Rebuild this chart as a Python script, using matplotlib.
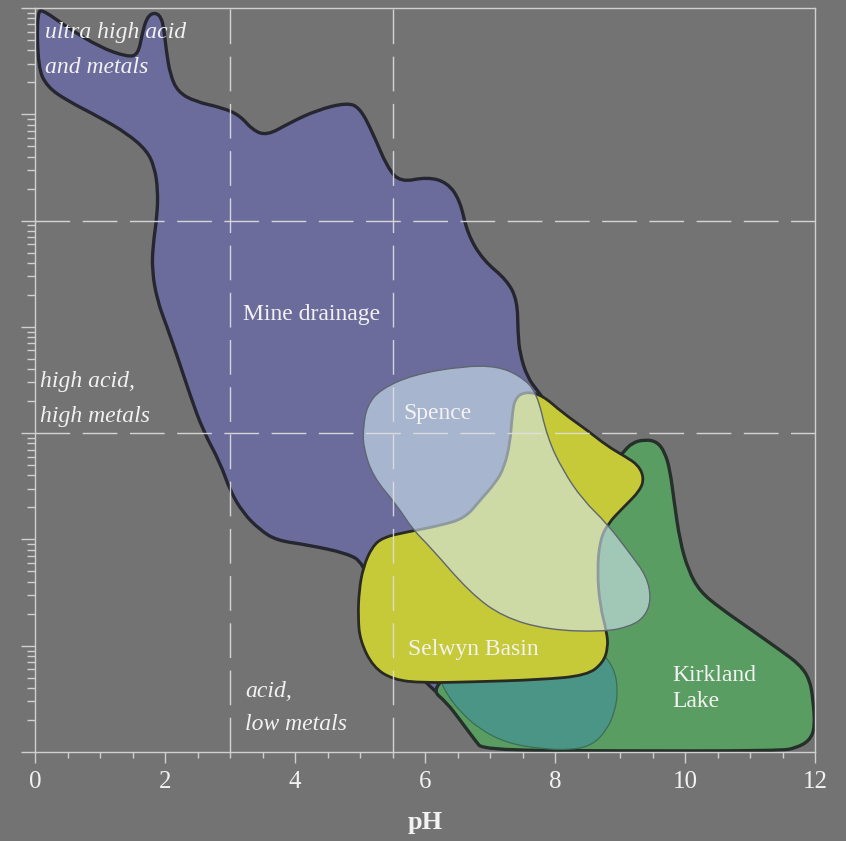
import numpy as np
import matplotlib
matplotlib.use("Agg")
import matplotlib.pyplot as plt
from matplotlib.path import Path
from matplotlib.patches import PathPatch
from matplotlib.ticker import LogLocator, NullFormatter, MultipleLocator

plt.rcParams['font.family'] = ['Liberation Serif', 'DejaVu Serif']

# Field outlines: pH and log10 of dissolved metal concentration
mine_ph = [0.03, 0.15, 0.49, 1.00, 1.42, 1.585, 1.65, 1.72, 1.83, 1.94, 1.985, 2.02, 2.08, 2.20,
           2.46, 2.89, 3.15, 3.35, 3.57, 3.92, 4.34, 4.80, 5.00, 5.20, 5.42, 5.62, 6.03, 6.34,
           6.54, 6.65, 6.89, 7.26, 7.42, 7.43, 7.46, 7.57, 7.74, 8.08, 8.23, 8.08, 7.46, 6.69,
           6.31, 6.00, 5.62, 5.28, 5.05, 4.80, 4.18, 3.72, 3.46, 3.20, 3.00, 2.85, 2.58, 2.385,
           2.185, 2.03, 1.88, 1.80, 1.815, 1.88, 1.89, 1.84, 1.72, 1.415, 1.00, 0.49, 0.185, 0.046]
mine_logm = [6.98, 6.97, 6.82, 6.63, 6.54, 6.56, 6.76, 6.91, 6.96, 6.92, 6.79, 6.60, 6.37, 6.21,
             6.12, 6.06, 5.99, 5.85, 5.80, 5.92, 6.04, 6.11, 6.06, 5.82, 5.50, 5.36, 5.41, 5.36,
             5.19, 4.88, 4.63, 4.44, 4.25, 3.94, 3.75, 3.53, 3.39, 3.12, 2.65, 1.81, 0.96, 0.49,
             0.49, 0.66, 0.91, 1.38, 1.78, 1.87, 1.95, 1.99, 2.09, 2.25, 2.46, 2.72, 3.03, 3.36,
             3.73, 4.00, 4.25, 4.53, 4.77, 5.05, 5.29, 5.50, 5.66, 5.82, 5.97, 6.13, 6.26, 6.44]

kirkland_ph = [9.05, 9.185, 9.385, 9.57, 9.69, 9.77, 9.83, 9.92, 10.05, 10.23, 10.54, 10.95, 11.46,
               11.77, 11.92, 11.97, 12.0, 11.92, 11.72, 11.46, 8.69, 6.89, 6.77, 6.54, 6.34, 6.08,
               6.69, 7.77, 8.31, 8.69, 8.92]
kirkland_logm = [2.82, 2.91, 2.94, 2.92, 2.82, 2.65, 2.37, 1.99, 1.71, 1.51, 1.355, 1.18, 0.96,
                 0.82, 0.68, 0.49, 0.235, 0.11, 0.04, 0.01, 0.01, 0.02, 0.11, 0.30, 0.46, 0.60,
                 0.87, 1.43, 2.09, 2.56, 2.73]

lower_ph = [6.23, 8.08, 8.69, 8.91, 8.97, 8.92, 8.80, 8.585, 8.28, 7.77, 7.26, 6.85, 6.54, 6.34, 6.23]
lower_logm = [0.77, 0.96, 0.96, 0.79, 0.58, 0.38, 0.21, 0.07, 0.02, 0.03, 0.085, 0.21, 0.38, 0.54, 0.68]

selwyn_ph = [7.54, 7.80, 8.12, 8.49, 8.80, 9.08, 9.28, 9.37, 9.31, 9.05, 8.815, 8.69, 8.65, 8.69,
             8.80, 8.815, 8.74, 8.49, 7.77, 6.74, 5.97, 5.51, 5.20, 5.00, 4.97, 4.985, 5.05, 5.185,
             5.355, 5.72, 6.23, 6.615, 6.85, 7.08, 7.215, 7.31, 7.34, 7.385]
selwyn_logm = [3.39, 3.36, 3.19, 3.03, 2.88, 2.78, 2.70, 2.58, 2.46, 2.30, 2.15, 1.99, 1.71, 1.38,
               1.12, 0.98, 0.84, 0.72, 0.68, 0.66, 0.65, 0.68, 0.80, 1.05, 1.27, 1.52, 1.74, 1.93,
               2.02, 2.07, 2.13, 2.20, 2.37, 2.53, 2.67, 2.91, 3.17, 3.33]

spence_ph = [5.05, 5.11, 5.31, 5.815, 6.585, 7.11, 7.46, 7.72, 7.88, 8.12, 8.43, 8.80, 9.15, 9.415,
             9.48, 9.38, 9.15, 8.74, 7.88, 7.20, 6.69, 6.08, 5.815, 5.57, 5.20, 5.05]
spence_logm = [3.06, 3.26, 3.41, 3.55, 3.63, 3.63, 3.54, 3.39, 2.96, 2.65, 2.37, 2.15, 1.87, 1.65,
               1.43, 1.27, 1.18, 1.13, 1.15, 1.27, 1.50, 1.93, 2.09, 2.32, 2.59, 2.87]

# Class boundaries
ph_bounds = [3.0, 5.5]
metal_bounds = [1e3, 1e5]

x_ticks = [0, 2, 4, 6, 8, 10, 12]


def smooth_outline(ph, logm):
    """Closed outline drawn as quadratic Bezier segments through edge midpoints."""
    p = np.column_stack([ph, logm]).astype(float)
    mids = (p + np.roll(p, -1, axis=0)) / 2.0
    verts = [mids[-1]]
    codes = [Path.MOVETO]
    for i in range(len(p)):
        verts += [p[i], mids[i]]
        codes += [Path.CURVE3, Path.CURVE3]
    verts.append(mids[-1])
    codes.append(Path.CLOSEPOLY)
    v = np.array(verts)
    v[:, 1] = 10.0 ** v[:, 1]
    return Path(v, codes)


bg = '#737373'
fg = '#f2f2f2'
axis_col = '#d0d0d0'

fig = plt.figure(figsize=(8.46, 8.41), dpi=100, facecolor=bg)
ax = fig.add_axes([35 / 846, 89 / 841, 780 / 846, 744 / 841], facecolor=bg)
ax.set_yscale('log')
ax.set_xlim(0, 12)
ax.set_ylim(1, 1e7)

fields = [
    (mine_ph, mine_logm, '#6b6c9c', 1.0, '#262630', 2.4, 2),
    (kirkland_ph, kirkland_logm, '#5a9d62', 1.0, '#26302a', 2.4, 3),
    (lower_ph, lower_logm, '#4a9585', 1.0, '#3c6e55', 0.9, 4),
    (selwyn_ph, selwyn_logm, '#c6ca38', 1.0, '#2a2a24', 2.0, 5),
    (spence_ph, spence_logm, '#d2e6f0', 0.6, '#5f6670', 1.0, 6),
]
for ph, lm, fc, a, ec, lw, z in fields:
    patch = PathPatch(smooth_outline(ph, lm), edgecolor=ec, linewidth=lw, zorder=z,
                      joinstyle='round')
    patch.set_facecolor(matplotlib.colors.to_rgba(fc, a))
    ax.add_patch(patch)

for xb in ph_bounds:
    ax.axvline(xb, color='#e0e0e0', lw=1.0, ls=(0, (25, 9)), zorder=7, alpha=0.9)
for yb in metal_bounds:
    ax.axhline(yb, color='#e0e0e0', lw=1.0, ls=(0, (25, 9)), zorder=7, alpha=0.9)

# Class annotations
ital = dict(color=fg, fontsize=17, fontstyle='italic', ha='left', va='baseline', zorder=9)
ax.text(0.154, 10 ** 6.717, 'ultra high acid', **ital)
ax.text(0.154, 10 ** 6.388, 'and metals', **ital)
ax.text(0.077, 10 ** 3.434, 'high acid,', **ital)
ax.text(0.077, 10 ** 3.104, 'high metals', **ital)
ax.text(3.23, 10 ** 0.517, 'acid,', **ital)
ax.text(3.23, 10 ** 0.207, 'low metals', **ital)

reg = dict(color=fg, fontsize=17, ha='left', va='baseline', zorder=9)
ax.text(3.2, 10 ** 4.064, 'Mine drainage', **reg)
ax.text(5.66, 10 ** 3.133, 'Spence', **reg)
ax.text(5.74, 10 ** 0.913, 'Selwyn Basin', **reg)
ax.text(9.80, 10 ** 0.668, 'Kirkland', **reg)
ax.text(9.80, 10 ** 0.423, 'Lake', **reg)

# Axes styling
for s in ax.spines.values():
    s.set_color(axis_col)
    s.set_linewidth(1.0)
    s.set_zorder(10)

ax.xaxis.set_major_locator(MultipleLocator(2))
ax.xaxis.set_minor_locator(MultipleLocator(0.5))
ax.set_xticks(x_ticks)
ax.set_xticklabels([str(t) for t in x_ticks])
ax.tick_params(axis='x', which='major', direction='out', length=8, width=1.0,
               colors=axis_col, labelcolor=fg, labelsize=18, pad=6)
ax.tick_params(axis='x', which='minor', direction='out', length=4.5, width=1.0, colors=axis_col)

ax.yaxis.set_major_locator(LogLocator(base=10, numticks=20))
ax.yaxis.set_minor_locator(LogLocator(base=10, subs=np.arange(2, 10), numticks=200))
ax.yaxis.set_major_formatter(NullFormatter())
ax.yaxis.set_minor_formatter(NullFormatter())
ax.tick_params(axis='y', which='major', direction='out', length=10, width=1.0, colors=axis_col)
ax.tick_params(axis='y', which='minor', direction='out', length=6, width=1.0, colors=axis_col)

ax.set_xlabel('pH', fontsize=19, fontweight='bold', color=fg, labelpad=13)

fig.savefig('out.png', dpi=100, facecolor=bg)
